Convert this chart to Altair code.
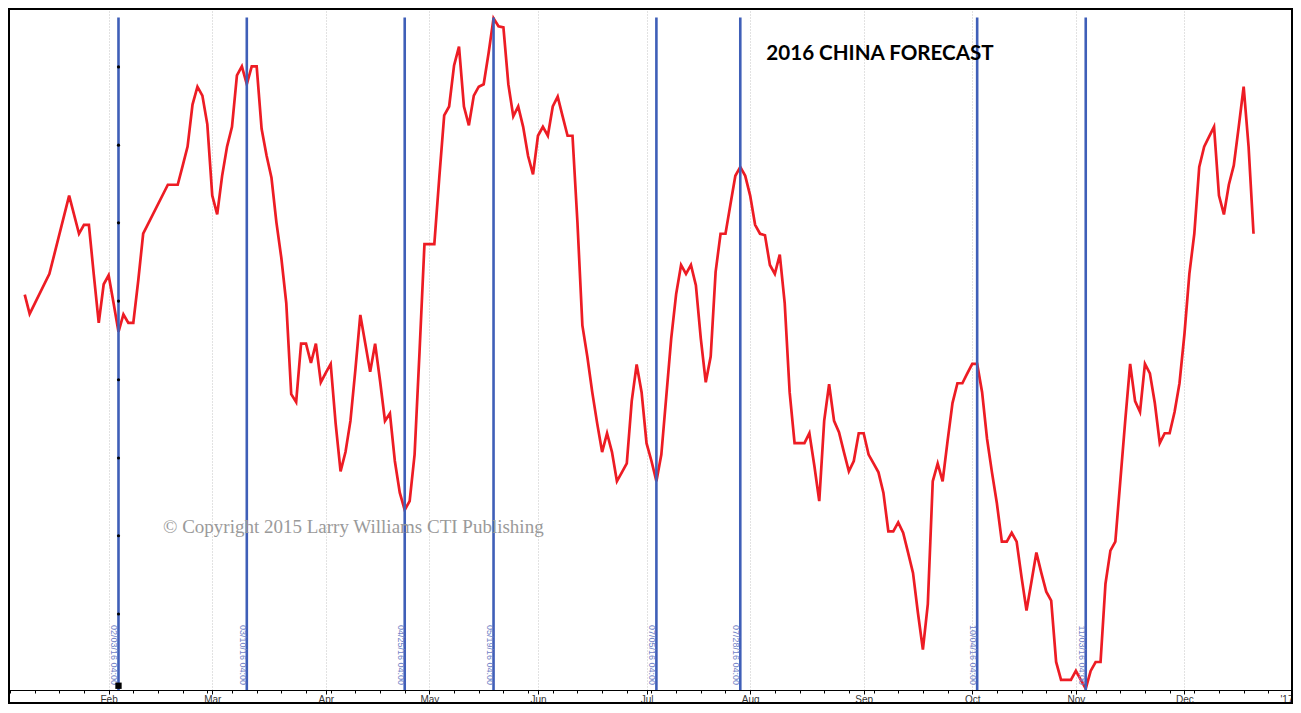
import json
import altair as alt
import numpy as np
import pandas as pd

# ---------------- data ----------------
dates = [
    "2016-01-07", "2016-01-08", "2016-01-14", "2016-01-20", "2016-01-22", "2016-01-25", "2016-01-26",
    "2016-01-27", "2016-01-28", "2016-01-29",
    "2016-02-01", "2016-02-02", "2016-02-03", "2016-02-04", "2016-02-05", "2016-02-08", "2016-02-09",
    "2016-02-10", "2016-02-17", "2016-02-19", "2016-02-22", "2016-02-23", "2016-02-24", "2016-02-25",
    "2016-02-26", "2016-02-29",
    "2016-03-01", "2016-03-02", "2016-03-03", "2016-03-04", "2016-03-07", "2016-03-08", "2016-03-09",
    "2016-03-10", "2016-03-11", "2016-03-14", "2016-03-15", "2016-03-16", "2016-03-17", "2016-03-18",
    "2016-03-21", "2016-03-22", "2016-03-23", "2016-03-24", "2016-03-25", "2016-03-28", "2016-03-29",
    "2016-03-30", "2016-03-31",
    "2016-04-01", "2016-04-04", "2016-04-05", "2016-04-06", "2016-04-07", "2016-04-08", "2016-04-11",
    "2016-04-12", "2016-04-13", "2016-04-14", "2016-04-15", "2016-04-18", "2016-04-19", "2016-04-20",
    "2016-04-21", "2016-04-22", "2016-04-25", "2016-04-26", "2016-04-27", "2016-04-28", "2016-04-29",
    "2016-05-02", "2016-05-03", "2016-05-04", "2016-05-05", "2016-05-06", "2016-05-09", "2016-05-10",
    "2016-05-11", "2016-05-12", "2016-05-13", "2016-05-16", "2016-05-17", "2016-05-18", "2016-05-19",
    "2016-05-20", "2016-05-23", "2016-05-24", "2016-05-25", "2016-05-26", "2016-05-27", "2016-05-30",
    "2016-05-31",
    "2016-06-01", "2016-06-02", "2016-06-03", "2016-06-06", "2016-06-07", "2016-06-08", "2016-06-09",
    "2016-06-10", "2016-06-13", "2016-06-14", "2016-06-15", "2016-06-16", "2016-06-17", "2016-06-20",
    "2016-06-21", "2016-06-22", "2016-06-23", "2016-06-24", "2016-06-27", "2016-06-28", "2016-06-29",
    "2016-06-30",
    "2016-07-01", "2016-07-04", "2016-07-05", "2016-07-06", "2016-07-07", "2016-07-08", "2016-07-11",
    "2016-07-12", "2016-07-13", "2016-07-14", "2016-07-15", "2016-07-18", "2016-07-19", "2016-07-20",
    "2016-07-21", "2016-07-22", "2016-07-25", "2016-07-26", "2016-07-27", "2016-07-28", "2016-07-29",
    "2016-08-01", "2016-08-02", "2016-08-03", "2016-08-04", "2016-08-05", "2016-08-08", "2016-08-09",
    "2016-08-10", "2016-08-11", "2016-08-12", "2016-08-15", "2016-08-16", "2016-08-17", "2016-08-18",
    "2016-08-19", "2016-08-22", "2016-08-23", "2016-08-24", "2016-08-25", "2016-08-26", "2016-08-29",
    "2016-08-30", "2016-08-31",
    "2016-09-01", "2016-09-02", "2016-09-05", "2016-09-06", "2016-09-07", "2016-09-08", "2016-09-09",
    "2016-09-12", "2016-09-13", "2016-09-14", "2016-09-15", "2016-09-16", "2016-09-19", "2016-09-20",
    "2016-09-21", "2016-09-22", "2016-09-23", "2016-09-26", "2016-09-27", "2016-09-28", "2016-09-29",
    "2016-09-30",
    "2016-10-03", "2016-10-04", "2016-10-05", "2016-10-06", "2016-10-07", "2016-10-10", "2016-10-11",
    "2016-10-12", "2016-10-13", "2016-10-14", "2016-10-17", "2016-10-18", "2016-10-19", "2016-10-20",
    "2016-10-21", "2016-10-24", "2016-10-25", "2016-10-26", "2016-10-27", "2016-10-28", "2016-10-31",
    "2016-11-01", "2016-11-02", "2016-11-03", "2016-11-04", "2016-11-07", "2016-11-08", "2016-11-09",
    "2016-11-10", "2016-11-11", "2016-11-14", "2016-11-15", "2016-11-16", "2016-11-17", "2016-11-18",
    "2016-11-21", "2016-11-22", "2016-11-23", "2016-11-24", "2016-11-25", "2016-11-28", "2016-11-29",
    "2016-11-30",
    "2016-12-01", "2016-12-02", "2016-12-05", "2016-12-06", "2016-12-07", "2016-12-08", "2016-12-09",
    "2016-12-12", "2016-12-13", "2016-12-14", "2016-12-15", "2016-12-16", "2016-12-19", "2016-12-20",
    "2016-12-21",
]
values = [
    74.0, 70.1, 78.2, 94.0, 86.3, 88.1, 88.1,
    78.0, 68.3, 76.1,
    77.9, 72.3, 66.5, 70.0, 68.3, 68.3, 76.8,
    86.3, 96.2, 96.2, 100.0, 103.9, 112.4, 116.0,
    114.2, 108.4,
    94.0, 90.2, 98.0, 103.9, 107.9, 118.3, 120.1,
    116.5, 120.1, 120.1, 107.5, 102.1, 97.6, 88.6,
    81.4, 72.3, 53.9, 52.3, 64.1, 64.1, 60.2,
    64.1, 56.3,
    58.2, 60.0, 48.0, 38.3, 42.2, 48.5, 58.8,
    69.9, 64.2, 58.4, 64.1, 56.6, 48.5, 50.0,
    40.4, 34.0, 30.5, 32.3, 41.7, 62.4, 84.2,
    84.2, 84.2, 97.6, 110.2, 112.0, 120.3, 124.1,
    112.0, 108.2, 114.2, 116.0, 116.5, 122.8, 129.8,
    128.2, 128.0, 116.5, 110.0, 112.0, 107.9, 102.0,
    98.3,
    106.1, 107.9, 106.1, 112.0, 114.0, 110.0, 106.1,
    106.1, 88.6, 67.8, 61.5, 54.3, 48.0, 42.2,
    46.0, 42.2, 36.3, 38.1, 39.9, 52.5, 59.9,
    54.3,
    44.0, 40.4, 36.3, 41.7, 53.4, 65.1, 74.1,
    80.0, 78.2, 80.0, 75.9, 65.1, 56.3, 61.5,
    78.6, 86.3, 86.3, 92.2, 98.0, 99.8, 98.0,
    94.0, 88.1, 86.3, 86.0, 80.0, 78.2, 82.1,
    72.3, 54.3, 44.0, 44.0, 44.0, 46.0, 39.5,
    32.3, 48.5, 55.9, 48.5, 46.2, 42.2, 38.3,
    40.4, 46.0,
    46.0, 41.7, 39.9, 38.1, 34.0, 26.2, 26.2,
    28.0, 25.9, 21.9, 17.8, 9.7, 2.3, 11.5,
    36.3, 39.9, 36.3, 44.4, 52.1, 56.1, 56.1,
    58.1,
    60.0, 60.0, 54.3, 44.9, 38.1, 31.8, 24.1,
    24.1, 25.9, 24.1, 16.9, 10.2, 16.0, 21.9,
    17.8, 14.0, 12.2, -0.2, -3.8, -3.8, -3.8,
    -2.0, -3.8, -5.6, -2.0, -0.2, -0.2, 15.6,
    22.3, 24.1, 36.3, 48.5, 60.0, 52.5, 50.3,
    60.0, 58.1, 52.1, 44.0, 46.0, 46.0, 50.3,
    56.1,
    66.0, 78.2, 86.3, 99.8, 103.9, 105.9, 107.9,
    94.0, 90.2, 96.2, 100.1, 107.9, 116.0, 103.9,
    86.3,
]

event_dates = ["2016-02-03", "2016-03-10", "2016-04-25", "2016-05-19",
               "2016-07-05", "2016-07-28", "2016-10-04", "2016-11-03"]
event_labels = ["02/03/16 04:00", "03/10/16 04:00", "04/25/16 04:00", "05/19/16 04:00",
                "07/05/16 04:00", "07/28/16 04:00", "10/04/16 04:00", "11/03/16 04:00"]

marker_date = "2016-02-03"
marker_values = [120.0, 104.2, 88.5, 72.7, 56.8, 41.0, 25.3, 9.5]
anchor_value = -5.0

month_starts = ["2016-02-01", "2016-03-01", "2016-04-01", "2016-05-01", "2016-06-01", "2016-07-01",
                "2016-08-01", "2016-09-01", "2016-10-01", "2016-11-01", "2016-12-01", "2017-01-01"]
month_names = ["Feb", "Mar", "Apr", "May", "Jun", "Jul", "Aug", "Sep", "Oct", "Nov", "Dec", "'17"]

title_text = "2016 CHINA FORECAST"
copyright_text = "\u00a9 Copyright 2015 Larry Williams CTI Publishing"
grid_values = [0, 10, 20, 30, 40, 50, 60, 70, 80, 90, 100, 110, 120]


def tidx(d):
    # trading-day (weekday) position counted from 2016-01-01
    return int(np.busday_count("2016-01-01", d))


line_df = pd.DataFrame({"date": dates, "value": values})
line_df["idx"] = [tidx(d) for d in dates]

ev_df = pd.DataFrame({"date": event_dates, "label": event_labels})
ev_df["idx"] = [tidx(d) for d in event_dates]

mk_df = pd.DataFrame({"value": marker_values})
mk_df["idx"] = tidx(marker_date)
anc_df = pd.DataFrame({"idx": [tidx(marker_date)], "value": [anchor_value]})

month_idx = [tidx(d) for d in month_starts]
mondays = [tidx(d.strftime("%Y-%m-%d")) for d in pd.date_range("2016-01-04", "2016-12-31", freq="W-MON")]

W, H = 1285, 682
xs = alt.Scale(domain=[0.61, 261.0], nice=False, zero=False)
ys = alt.Scale(domain=[-5.86, 131.9], nice=False, zero=False)

label_expr = f"{json.dumps(month_names)}[indexof({json.dumps(month_idx)}, datum.value)]"

GRID = "#c4c4c4"

line = alt.Chart(line_df).mark_line(color="#ED1C24", strokeWidth=2.7, clip=True).encode(
    x=alt.X("idx:Q", scale=xs, axis=alt.Axis(
        values=month_idx, labelExpr=label_expr, title=None, orient="bottom",
        grid=True, gridColor=GRID, gridDash=[1, 2], gridWidth=1,
        tickSize=4, tickColor="#000000", domainColor="#000000", domainWidth=1,
        labelFont="Liberation Sans", labelFontSize=10, labelColor="#333333", labelPadding=0,
        labelFlush=True, labelOverlap=False)),
    y=alt.Y("value:Q", scale=ys, axis=alt.Axis(
        values=grid_values, labels=False, ticks=False, domain=False, title=None,
        grid=True, gridColor=GRID, gridDash=[1, 2], gridWidth=1)),
)

rules = alt.Chart(ev_df).mark_rule(color="#3F5FB8", strokeWidth=2.6).encode(
    x=alt.X("idx:Q", scale=xs, axis=alt.Axis(
        values=mondays, labels=False, tickSize=3, tickColor="#000000", grid=False,
        domain=False, title=None, orient="bottom")),
    y=alt.datum(130),
    y2=alt.value(H),
)

rule_labels = alt.Chart(ev_df).mark_text(
    angle=90, align="right", baseline="top", fontSize=9, font="Liberation Sans",
    color="#6F7FC6", dx=-2,
).encode(
    x=alt.X("idx:Q", scale=xs, axis=None),
    y=alt.value(H - 3),
    text="label:N",
)

dots = alt.Chart(mk_df).mark_circle(size=10, color="#000000", opacity=1).encode(
    x=alt.X("idx:Q", scale=xs, axis=None),
    y=alt.Y("value:Q", scale=ys, axis=None),
)

anchor = alt.Chart(anc_df).mark_square(size=40, color="#000000", opacity=1).encode(
    x=alt.X("idx:Q", scale=xs, axis=None),
    y=alt.Y("value:Q", scale=ys, axis=None),
)

title = alt.Chart(pd.DataFrame({"t": [title_text]})).mark_text(
    font="Lato", fontWeight="bold", fontSize=20.6, align="center", baseline="alphabetic", color="#000000"
).encode(x=alt.value(872), y=alt.value(52), text="t:N")

copyright_mark = alt.Chart(pd.DataFrame({"t": [copyright_text]})).mark_text(
    font="Liberation Serif", fontSize=19, align="left", baseline="alphabetic", color="#9a9a9a"
).encode(x=alt.value(155), y=alt.value(525), text="t:N")

frame = alt.Chart(pd.DataFrame({"a": [0]})).mark_rect(
    fillOpacity=0, stroke="#000000", strokeWidth=2, clip=False
).encode(x=alt.value(1), x2=alt.value(W - 1), y=alt.value(1), y2=alt.value(H + 13))

chart = alt.layer(
    line, rules, rule_labels, dots, anchor, title, copyright_mark, frame
).resolve_axis(x="independent").properties(
    width=W, height=H,
    autosize=alt.AutoSizeParams(type="none"),
    padding={"left": 0, "top": 0, "right": 0, "bottom": 14},
    background="#ffffff",
).configure_view(strokeWidth=0)

chart.save("out.html", embed_options={"renderer": "svg", "actions": False})
